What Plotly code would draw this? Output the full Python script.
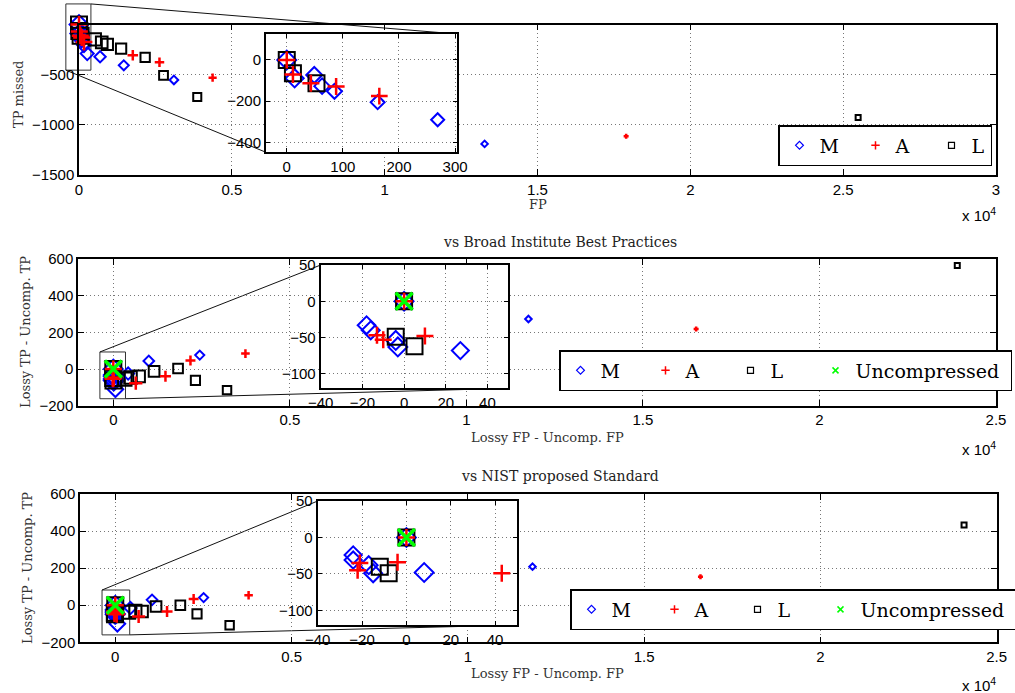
import numpy as np
import plotly.graph_objects as go

W, H = 1015, 693

# ---------------- data ----------------
# Panel 1: absolute FP vs TP missed
top_m_fp = [0, 14, 49, 63, 85, 162, 269, 689, 1465, 3105, 13270]
top_m_tp = [0, -89, -73, -127, -152, -205, -290, -321, -407, -553, -1190]
top_a_fp = [0, 11, 43, 88, 165, 1760, 2633, 4371, 17900]
top_a_tp = [0, -70, -113, -129, -175, -307, -377, -530, -1115]
top_l_fp = [0, 11, 53, 515, 744, 929, 1377, 2164, 2765, 3869, 25490]
top_l_tp = [0, -65, -113, -148, -178, -198, -241, -327, -507, -723, -928]

# Panel 2: differences vs Broad Institute Best Practices
broad_m_dfp = [0, -18, -16, -4, -3, 27, 60, 420, 1005, 2448, 11757]
broad_m_dtp = [0, -33, -40, -54, -63, -68, -110, -25, 44, 76, 273]
broad_a_dfp = [0, -13, -10, 10, 637, 1477, 2185, 3742, 16507]
broad_a_dtp = [0, -47, -53, -48, -77, -40, 47, 84, 218]
broad_l_dfp = [0, -4, 5, 326, 487, 730, 1155, 1834, 2326, 3221, 23903]
broad_l_dtp = [0, -49, -62, -55, -46, -40, -13, 3, -62, -115, 564]

# Panel 3: differences vs NIST proposed Standard
nist_m_dfp = [0, -24, -24, -17, -15, 8, 60, 430, 1043, 2506, 11834]
nist_m_dtp = [0, -24, -31, -38, -49, -48, -100, -15, 29, 41, 208]
nist_a_dfp = [0, -22, -21, -4, 43, 663, 1469, 2223, 3782, 16598]
nist_a_dtp = [0, -45, -35, -34, -49, -61, -34, 34, 54, 154]
nist_l_dfp = [0, -12, -8, 380, 570, 760, 1157, 1846, 2319, 3244, 24074]
nist_l_dtp = [0, -40, -49, -38, -31, -34, -7, 0, -47, -108, 433]

uncomp_dfp = [0]
uncomp_dtp = [0]

main_xticks = [0, 5000, 10000, 15000, 20000, 25000, 30000]
main_xticktext = ["0", "0.5", "1", "1.5", "2", "2.5", "3"]

SANS = "Liberation Sans"
SERIF = "DejaVu Serif"


def extent(vals, top, slope, lo, hi):
    v = np.abs(np.asarray(vals, dtype=float))
    return np.clip(top - slope * np.log10(1 + v), lo, hi)


STYLE = {
    "M": dict(symbol="diamond-open", color="#0000ff", lw=2,
              size=lambda x: extent(x, 28, 5, 8, 23) * 0.82 / 1.3, leg=6, leglw=1.2),
    "A": dict(symbol="cross-thin-open", color="#ff0000", lw=2.5,
              size=lambda x: extent(x, 30, 6, 5, 17) / 1.4, leg=6, leglw=1.5),
    "L": dict(symbol="square-open", color="#000000", lw=2,
              size=lambda x: extent(x, 26, 5, 5, 16), leg=6, leglw=1.2),
    "Uncompressed": dict(symbol="x-thin-open", color="#00ff00", lw=3.5,
                         size=lambda x: np.full(len(x), 17.0), leg=6, leglw=1.5),
}


def xdom(a, b):
    return [a / W, b / W]


def ydom(top, bot):
    return [1 - bot / H, 1 - top / H]


panels = [
    dict(
        main=dict(x=(79, 996), y=(24.5, 175), xr=[0, 30000], yr=[-1500, 0],
                  xt=main_xticks, xtt=main_xticktext, yt=[-1500, -1000, -500]),
        inset=dict(x=(266, 457.3), y=(34, 152.3), xr=[-37, 304], yr=[-448, 126],
                   xt=[0, 100, 200, 300], yt=[-400, -200, 0]),
        zoom=dict(x=[-430, 390], y=[-455, 205]),
        links=[("tr", "tr"), ("bl", "bl")],
        series=[("M", top_m_fp, top_m_tp), ("L", top_l_fp, top_l_tp),
                ("A", top_a_fp, top_a_tp)],
        legend=dict(x=778, y=125, order=["M", "A", "L"], ew=31, last=14),
    ),
    dict(
        main=dict(x=(78, 996), y=(259, 405.7), xr=[-1000, 25000], yr=[-200, 600],
                  xt=main_xticks[:6], xtt=main_xticktext[:6], yt=[-200, 0, 200, 400, 600]),
        inset=dict(x=(320.7, 508.3), y=(265, 388.3), xr=[-40, 50], yr=[-120, 50],
                   xt=[-40, -20, 0, 20, 40], yt=[-100, -50, 0, 50]),
        zoom=dict(x=[-380, 345], y=[-162, 93]),
        links=[("tl", "tl"), ("br", "br")],
        series=[("M", broad_m_dfp, broad_m_dtp), ("L", broad_l_dfp, broad_l_dtp),
                ("A", broad_a_dfp, broad_a_dtp), ("Uncompressed", uncomp_dfp, uncomp_dtp)],
        legend=dict(x=559, y=350, order=["M", "A", "L", "Uncompressed"], ew=40, last=150),
    ),
    dict(
        main=dict(x=(80, 996.7), y=(494, 642.3), xr=[-1000, 25000], yr=[-200, 600],
                  xt=main_xticks[:6], xtt=main_xticktext[:6], yt=[-200, 0, 200, 400, 600]),
        inset=dict(x=(317.7, 517.3), y=(501, 625), xr=[-40, 50], yr=[-120, 50],
                   xt=[-40, -20, 0, 20, 40], yt=[-100, -50, 0, 50]),
        zoom=dict(x=[-375, 410], y=[-160, 82]),
        links=[("tl", "tl"), ("br", "br")],
        series=[("M", nist_m_dfp, nist_m_dtp), ("L", nist_l_dfp, nist_l_dtp),
                ("A", nist_a_dfp, nist_a_dtp), ("Uncompressed", uncomp_dfp, uncomp_dtp)],
        legend=dict(x=570, y=589, order=["M", "A", "L", "Uncompressed"], ew=38, last=150),
    ),
]

fig = go.Figure()
layout = dict(
    width=W, height=H, margin=dict(l=0, r=0, t=0, b=0, autoexpand=False),
    paper_bgcolor="white", plot_bgcolor="white", showlegend=True,
)
shapes = []
annotations = []


def axis_style(dom, rng, tickvals, ticktext, anchor, lw, ticklen):
    d = dict(
        domain=dom, range=rng, anchor=anchor, tickmode="array", tickvals=tickvals,
        showline=True, linecolor="black", linewidth=lw, mirror="ticks",
        ticks="inside", ticklen=ticklen, tickwidth=1, tickcolor="black",
        showgrid=True, gridcolor="#777777", griddash="1px,3px", gridwidth=1,
        zeroline=False, tickfont=dict(family=SANS, size=15, color="black"),
        fixedrange=True, automargin=False,
    )
    if ticktext is not None:
        d["ticktext"] = ticktext
    return d


def corner(xs, ys, which):
    cx = xs[0] if which[1] == "l" else xs[1]
    cy = ys[1] if which[0] == "t" else ys[0]
    return cx, cy


def to_paper(v, rng, dom):
    return dom[0] + (v - rng[0]) / (rng[1] - rng[0]) * (dom[1] - dom[0])


for p_i, p in enumerate(panels):
    mi, ii = 2 * p_i + 1, 2 * p_i + 2
    mx, my = ("x", "y") if mi == 1 else (f"x{mi}", f"y{mi}")
    ix, iy = f"x{ii}", f"y{ii}"
    m, ins = p["main"], p["inset"]
    mxd, myd = xdom(*m["x"]), ydom(*m["y"])
    ixd, iyd = xdom(*ins["x"]), ydom(*ins["y"])

    layout["xaxis" if mi == 1 else f"xaxis{mi}"] = axis_style(mxd, m["xr"], m["xt"], m["xtt"], my, 1.5, 6)
    layout["yaxis" if mi == 1 else f"yaxis{mi}"] = axis_style(myd, m["yr"], m["yt"], None, mx, 1.5, 6)
    layout[f"xaxis{ii}"] = axis_style(ixd, ins["xr"], ins["xt"], None, iy, 2, 4)
    layout[f"yaxis{ii}"] = axis_style(iyd, ins["yr"], ins["yt"], None, ix, 2, 4)

    # zoom rectangle on the main axes and its connectors to the inset
    zx = [to_paper(v, m["xr"], mxd) for v in p["zoom"]["x"]]
    zy = [to_paper(v, m["yr"], myd) for v in p["zoom"]["y"]]
    shapes.append(dict(type="rect", xref="paper", yref="paper", layer="below",
                       x0=zx[0], x1=zx[1], y0=zy[0], y1=zy[1],
                       line=dict(color="#333333", width=1)))
    for a, b in p["links"]:
        x0, y0 = corner(zx, zy, a)
        x1, y1 = corner(ixd, iyd, b)
        shapes.append(dict(type="line", xref="paper", yref="paper", layer="below",
                           x0=x0, y0=y0, x1=x1, y1=y1,
                           line=dict(color="#111111", width=1)))

    # data on main and inset axes
    for name, xs, ys in p["series"]:
        st = STYLE[name]
        sz = st["size"](xs)
        for ax_x, ax_y, clip in ((mx, my, False), (ix, iy, True)):
            fig.add_trace(go.Scatter(
                x=xs, y=ys, mode="markers", xaxis=ax_x, yaxis=ax_y,
                showlegend=False, cliponaxis=clip, hoverinfo="skip",
                marker=dict(symbol=st["symbol"], size=sz, color=st["color"], opacity=1,
                            line=dict(color=st["color"], width=st["lw"])),
            ))

    # legend entries
    lg_name = "legend" if p_i == 0 else f"legend{p_i + 1}"
    lg = p["legend"]
    for k, name in enumerate(lg["order"]):
        st = STYLE[name]
        kw = {}
        if k == len(lg["order"]) - 1:
            kw["legendwidth"] = lg["last"]
        fig.add_trace(go.Scatter(
            x=[None], y=[None], mode="markers", name=name, xaxis=mx, yaxis=my,
            legend=lg_name, showlegend=True,
            marker=dict(symbol=st["symbol"], size=st["leg"], color=st["color"], opacity=1,
                        line=dict(color=st["color"], width=st["leglw"])),
            **kw,
        ))
    layout[lg_name] = dict(
        x=lg["x"] / W, y=1 - lg["y"] / H, xanchor="left", yanchor="top",
        orientation="h", bgcolor="white", bordercolor="black", borderwidth=1.5,
        font=dict(family=SERIF, size=19, color="black"), entrywidth=lg["ew"],
        entrywidthmode="pixels", itemsizing="trace", itemclick=False,
    )


def note(text, xp, yp, size=13, angle=0, anchor="center", color="#333333", family=SERIF):
    annotations.append(dict(
        text=text, x=xp / W, y=1 - yp / H, xref="paper", yref="paper",
        showarrow=False, textangle=angle, xanchor=anchor, yanchor="middle",
        font=dict(family=family, size=size, color=color),
    ))


note("TP missed", 18, 95, angle=-90)
note("FP", 538, 205)
note("vs Broad Institute Best Practices", 560, 242, size=14, color="#222222")
note("Lossy TP - Uncomp. TP", 25, 332, angle=-90)
note("Lossy FP - Uncomp. FP", 547, 437)
note("vs NIST proposed Standard", 560, 476, size=14, color="#222222")
note("Lossy TP - Uncomp. TP", 27, 568, angle=-90)
note("Lossy FP - Uncomp. FP", 547, 673)
for yp in (214, 448, 684):
    note("x 10<sup>4</sup>", 998, yp, size=15, anchor="right", color="black", family=SANS)

layout["shapes"] = shapes
layout["annotations"] = annotations
fig.update_layout(**layout)
fig.write_html("out.html")
